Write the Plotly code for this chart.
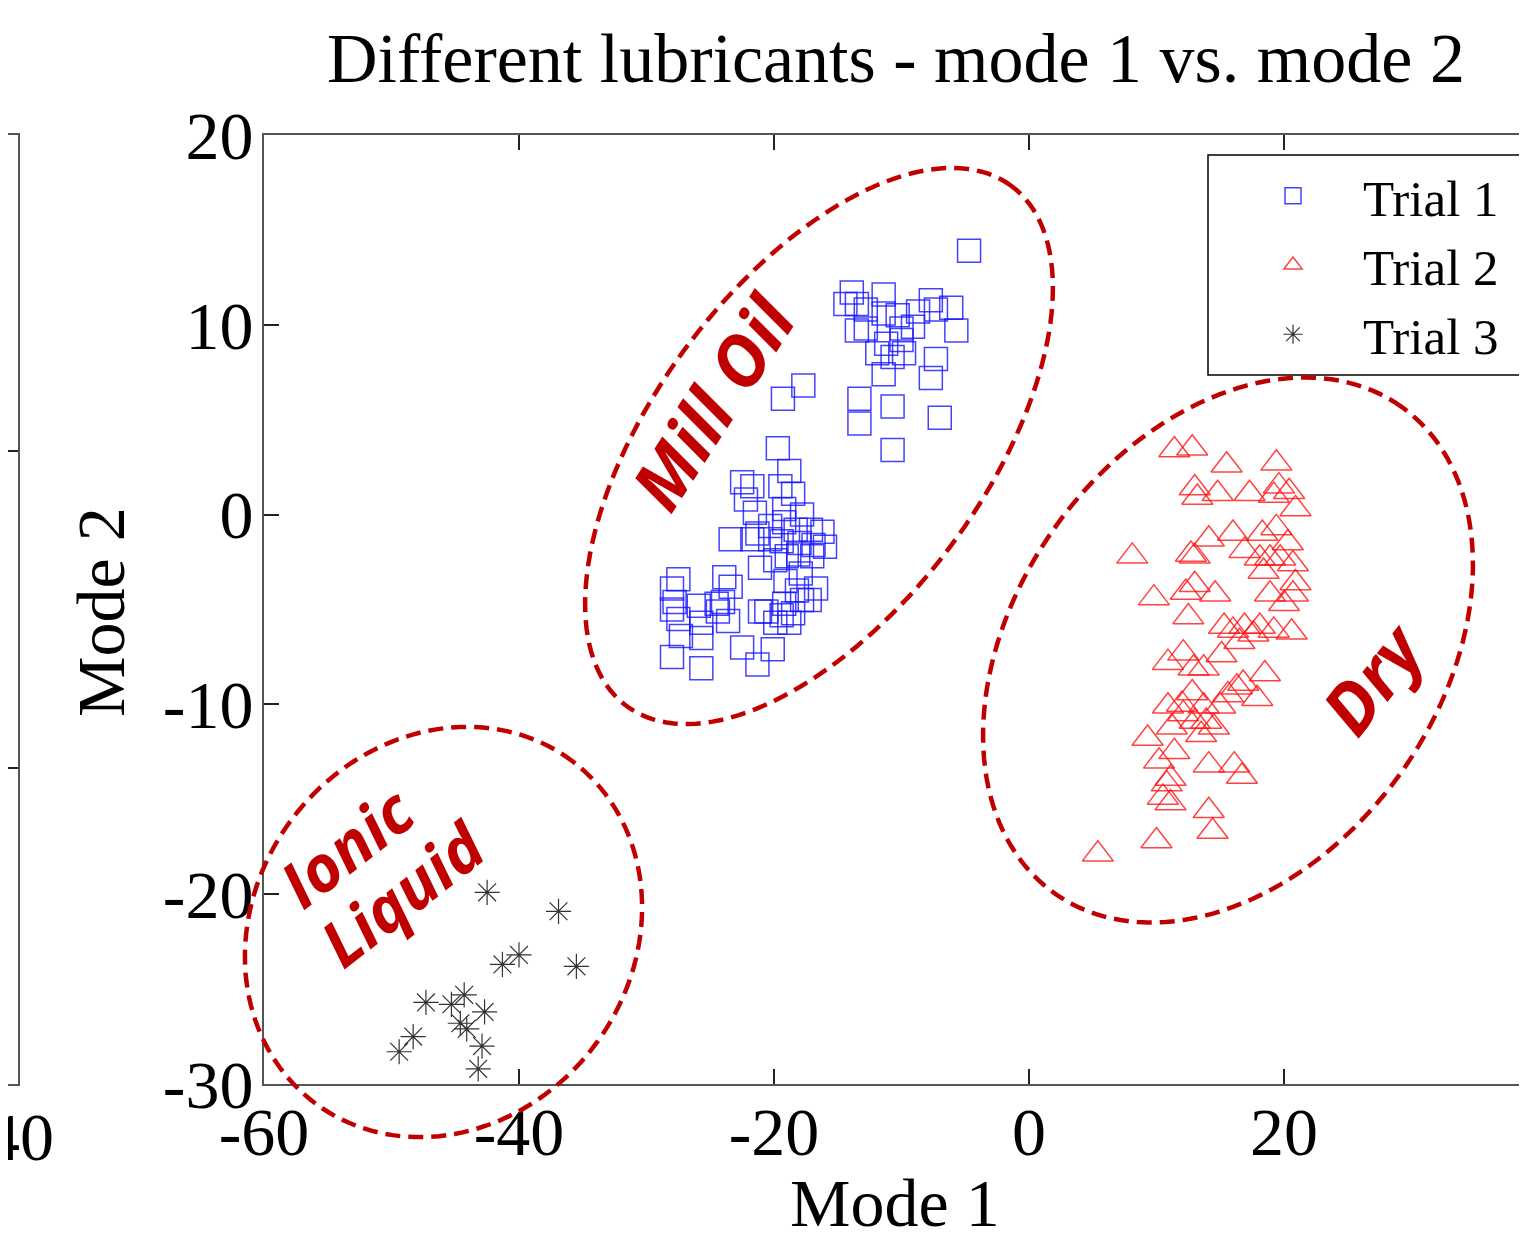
import numpy as np
import plotly.graph_objects as go

# ---------------- data ----------------
trial1_x = [-4.7, -13.9, -14.4, -13.5, -11.4, -12.8, -7.7, -6.1, -7.3, -8.7, -11.4, -10.3, -9.1, -13.5, -12.8,
            -5.7, -10.0, -11.2, -10.0, -11.9, -9.8, -10.7, -7.3, -11.4, -7.7, -13.3, -10.7, -7.0, -13.3, -10.7,
            -17.7, -19.3,
            -19.7, -18.8, -22.5, -21.7, -19.5, -18.5, -22.2, -21.5, -19.2, -17.8, -20.3, -23.4, -21.7, -21.3,
            -19.2, -18.3, -17.1, -16.2, -20.3, -19.4, -18.0, -16.9, -16.0, -17.0, -18.1, -19.0, -19.9, -21.1,
            -17.9, -19.1, -16.7, -18.2, -17.8, -17.2, -19.2, -21.1, -20.6, -19.4, -18.5, -19.9, -18.8,
            -27.5, -28.0, -28.0, -27.5, -25.9, -25.7, -24.4, -23.9, -23.4, -23.6, -24.0, -27.3, -25.7, -28.0,
            -25.7, -22.5, -20.1, -21.3, -27.8, -24.5]
trial1_y = [13.9, 11.7, 11.1, 11.1, 11.6, 10.8, 11.3, 10.9, 10.8, 10.7, 10.6, 10.5, 9.9, 9.7, 9.8,
            9.7, 9.8, 9.0, 9.2, 8.5, 8.5, 8.3, 8.2, 7.4, 7.2, 6.1, 5.7, 5.1, 4.8, 3.4,
            6.8, 6.1,
            3.5, 2.3, 1.7, 1.5, 1.5, 1.1, 0.8, 0.1, 0.3, 0.0, -0.6, -1.3, -1.3, -1.0,
            -0.4, -0.8, -0.8, -0.9, -1.3, -1.4, -1.5, -1.6, -1.7, -2.2, -2.1, -2.2, -2.4, -2.8,
            -3.1, -3.5, -3.9, -4.0, -4.5, -4.5, -4.7, -5.1, -5.1, -5.3, -5.2, -5.7, -5.7,
            -3.4, -3.9, -5.0, -5.5, -4.8, -5.7, -5.1, -3.3, -3.8, -5.6, -4.6, -6.4, -6.5, -7.5,
            -8.1, -7.0, -7.1, -7.9, -4.6, -4.7]

trial2_x = [11.4, 12.8, 15.5, 19.4, 13.0, 13.2, 14.8, 17.3, 19.6, 19.2, 20.4, 20.9, 14.1, 16.0, 12.7,
            13.0, 8.1, 18.3, 19.4, 20.3, 16.9, 18.1, 18.9, 19.7, 20.7, 18.4, 9.8, 12.3, 13.0, 14.6,
            18.9, 20.9, 20.7, 20.0, 12.5, 15.3, 16.0, 16.9, 18.1, 17.6, 19.2, 20.6, 16.5, 12.1, 10.9,
            12.9, 13.7, 15.1, 18.5, 16.8, 16.3, 15.6, 17.9, 10.9, 12.0, 12.8, 13.7, 15.0, 12.1, 13.0,
            13.9, 14.5, 11.2, 9.3, 13.5, 11.4, 10.2, 14.1, 16.1, 16.7, 11.1, 10.8, 10.5, 11.1, 14.1,
            14.4, 10.0, 5.4]
trial2_y = [3.4, 3.5, 2.6, 2.7, 1.4, 0.9, 1.1, 1.1, 1.5, 1.0, 1.2, 0.3, -1.3, -1.0, -2.1,
            -2.2, -2.2, -1.0, -0.7, -1.5, -1.9, -2.3, -2.3, -2.3, -2.6, -3.0, -4.4, -4.1, -3.7, -4.2,
            -4.2, -3.6, -4.2, -4.7, -5.4, -5.9, -6.1, -5.9, -5.9, -6.3, -6.1, -6.2, -6.7, -7.3, -7.8,
            -8.1, -8.1, -7.4, -8.4, -8.9, -9.1, -9.5, -9.7, -10.1, -10.0, -9.4, -10.1, -10.1, -10.5, -10.9,
            -10.9, -11.2, -11.2, -11.8, -11.6, -12.5, -13.0, -13.2, -13.2, -13.8, -13.9, -14.2, -14.9, -15.2, -15.6,
            -16.7, -17.2, -17.9]

trial3_x = [-42.5, -36.9, -40.0, -41.3, -35.5, -47.3, -45.3, -44.3, -42.7, -44.6, -44.1, -48.3, -49.4, -42.9, -43.2]
trial3_y = [-19.9, -20.9, -23.2, -23.7, -23.8, -25.7, -25.8, -25.3, -26.2, -26.8, -27.1, -27.5, -28.3, -28.0, -29.2]

series_names = ["Trial 1", "Trial 2", "Trial 3"]
x_ticks = [-60, -40, -20, 0, 20, 40]
y_ticks = [-30, -20, -10, 0, 10, 20]
title_text = "Different lubricants - mode 1 vs. mode 2"
x_title = "Mode 1"
y_title = "Mode 2"
cluster_labels = ["Mill Oil", "Dry", "Ionic", "Liquid"]
left_panel_tick = "40"

# ---------------- geometry (reference pixel space; page body has an 8px margin) ----------------
OFF = 8
PL, PT, PB, PR = 264, 135, 1084, 1539   # plot area edges in reference px (right edge is off-page)
W, H = PR - OFF, 1240 - OFF


def pxx(px):
    return (px - OFF) / W


def pxy(py):
    return (PB - py) / (PB - PT)


SERIF = "Liberation Serif, Times New Roman, serif"
DARKRED = "#C00000"

fig = go.Figure()
fig.add_trace(go.Scatter(x=trial1_x, y=trial1_y, mode="markers", name=series_names[0],
                         marker=dict(symbol="square-open", size=23, color="rgba(20,20,255,0.8)",
                                     line=dict(width=1.5))))
fig.add_trace(go.Scatter(x=trial2_x, y=trial2_y, mode="markers", name=series_names[1],
                         marker=dict(symbol="triangle-up-open", size=27, color="rgba(255,20,20,0.8)",
                                     line=dict(width=1.5))))
fig.add_trace(go.Scatter(x=trial3_x, y=trial3_y, mode="markers", name=series_names[2],
                         marker=dict(symbol="asterisk-open", size=21, color="#333333",
                                     line=dict(width=1.2))))

# partial neighbouring subplot on the far left
fig.add_trace(go.Scatter(x=[], y=[], xaxis="x2", yaxis="y2", showlegend=False))

axis_common = dict(showline=True, linecolor="#555555", linewidth=2, ticks="inside", ticklen=15,
                   tickwidth=2, tickcolor="#222222", showgrid=False, zeroline=False, automargin=False,
                   tickfont=dict(family=SERIF, size=68, color="black"))

fig.update_layout(
    width=W, height=H,
    margin=dict(l=0, r=0, t=PT - OFF, b=H - (PB - OFF), pad=0, autoexpand=False),
    paper_bgcolor="white", plot_bgcolor="white",
    showlegend=True,
    xaxis=dict(domain=[pxx(PL), 1], range=[-60, 40], tickvals=x_ticks,
               ticktext=[str(v) for v in x_ticks], mirror="ticks", ticklabelstandoff=-13, **axis_common),
    yaxis=dict(range=[-30, 20], tickvals=y_ticks, ticktext=[str(v) for v in y_ticks],
               mirror="ticks", ticklabelstandoff=-5, **axis_common),
    xaxis2=dict(domain=[0, pxx(18)], range=[39, 40], tickvals=[40], showticklabels=False, anchor="y2",
                mirror="ticks", **axis_common),
    yaxis2=dict(range=[0, 3], tickvals=[0, 1, 2, 3], anchor="x2", side="right",
                showticklabels=False, **axis_common),
    legend=dict(x=pxx(1223), y=pxy(156), xanchor="left", yanchor="top",
                bgcolor="rgba(0,0,0,0)", borderwidth=0, itemwidth=130,
                font=dict(family=SERIF, size=51, color="black")),
)

# legend frame
fig.add_shape(type="rect", xref="paper", yref="paper", x0=pxx(1208), x1=pxx(1520), y0=pxy(375), y1=pxy(155),
              line=dict(color="black", width=1.5), fillcolor="white", layer="above")


# dashed cluster ellipses (px-space params: cx, cy, a, b, angle)
def ellipse_path(cx, cy, a, b, ang, n=160):
    t = np.linspace(0, 2 * np.pi, n)
    th = np.radians(ang)
    ex = cx + a * np.cos(t) * np.cos(th) - b * np.sin(t) * np.sin(th)
    ey = cy - (a * np.cos(t) * np.sin(th) + b * np.sin(t) * np.cos(th))
    pts = [f"{pxx(x):.5f},{pxy(y):.5f}" for x, y in zip(ex, ey)]
    return "M " + " L ".join(pts) + " Z"


ellipses = [(819, 446, 323.5, 165.4, 53.5), (1228, 650, 298.8, 212.1, 54.4), (443.5, 932, 214, 189, 52.6)]
for e in ellipses:
    fig.add_shape(type="path", xref="paper", yref="paper", path=ellipse_path(*e),
                  line=dict(color=DARKRED, width=4.5, dash="15px,8px"))

# cluster labels
label_pos = [(712, 402, -57, 70), (1372, 678, -52, 70), (346, 846, -38, 64), (402, 893, -38, 64)]
for txt, (lx, ly, ang, sz) in zip(cluster_labels, label_pos):
    fig.add_annotation(text=txt, x=pxx(lx), y=pxy(ly), xref="paper", yref="paper", showarrow=False,
                       xanchor="center", yanchor="middle", textangle=ang,
                       font=dict(family="Open Sans", size=sz, color=DARKRED, weight="bold", style="italic"))

# titles
fig.add_annotation(text=title_text, x=pxx(896), y=pxy(58), xref="paper", yref="paper", showarrow=False,
                   xanchor="center", yanchor="middle", font=dict(family=SERIF, size=70, color="black"))
fig.add_annotation(text=x_title, x=pxx(895), y=pxy(1203), xref="paper", yref="paper", showarrow=False,
                   xanchor="center", yanchor="middle", font=dict(family=SERIF, size=68, color="black"))
fig.add_annotation(text=y_title, x=pxx(101), y=pxy(612), xref="paper", yref="paper", showarrow=False,
                   xanchor="center", yanchor="middle", textangle=-90,
                   font=dict(family=SERIF, size=68, color="black"))
# tick label of the neighbouring (cut-off) panel
fig.add_annotation(text=left_panel_tick, x=pxx(20), y=pxy(1137), xref="paper", yref="paper", showarrow=False,
                   xanchor="center", yanchor="middle", font=dict(family=SERIF, size=68, color="black"))

fig.write_html("out.html")
